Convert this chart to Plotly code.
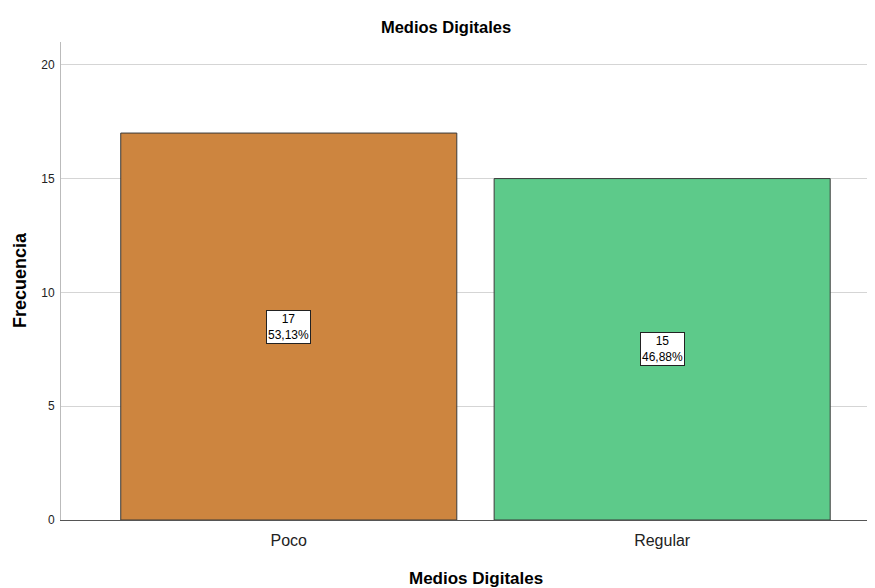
import plotly.graph_objects as go

categories = ["Poco", "Regular"]
counts = [17, 15]
percents = ["53,13%", "46,88%"]
colors = ["#CD853F", "#5DCA8A"]
y_ticks = [0, 5, 10, 15, 20]

fig = go.Figure()
fig.add_trace(go.Bar(
    x=categories, y=counts, width=0.9,
    marker=dict(color=colors, line=dict(color="#3a3a3a", width=1)),
    hoverinfo="skip",
))

for c, v, p in zip(categories, counts, percents):
    fig.add_annotation(
        x=c, y=v / 2, text=f"{v}<br>{p}", showarrow=False,
        font=dict(family="Liberation Sans, Arial", size=12, color="#000"),
        bgcolor="white", bordercolor="#222", borderwidth=1, borderpad=1,
        align="center",
    )

# axis titles as annotations (placed like the reference)
fig.add_annotation(
    xref="paper", yref="paper", x=(476 - 61) / 814, y=(520 - 578) / 478,
    xanchor="center", yanchor="middle", showarrow=False,
    text="<b>Medios Digitales</b>", font=dict(size=17, color="#000"),
)
fig.add_annotation(
    xref="paper", yref="paper", x=(20 - 61) / 814, y=(520 - 280) / 478,
    xanchor="center", yanchor="middle", showarrow=False, textangle=-90,
    text="<b>Frecuencia</b>", font=dict(size=18, color="#000"),
)

fig.update_layout(
    width=867, height=580,
    margin=dict(l=53, r=0, t=34, b=68),
    paper_bgcolor="white", plot_bgcolor="white",
    showlegend=False,
    font=dict(family="Liberation Sans, Arial", color="#000"),
    title=dict(text="<b>Medios Digitales</b>", x=(446 - 8) / 867, xanchor="center",
               y=1 - 19 / 580, yanchor="middle",
               font=dict(size=16.5, color="#000")),
    xaxis=dict(
        range=[-0.61, 1.57], showgrid=False, ticks="",
        showline=True, linecolor="#555", linewidth=1,
        tickfont=dict(size=16, color="#222"), ticklabelstandoff=6,
    ),
    yaxis=dict(
        range=[0, 21.0], tickvals=y_ticks, ticks="",
        showgrid=True, gridcolor="#d5d5d5", gridwidth=1,
        showline=True, linecolor="#bbb", linewidth=1, zeroline=False,
        tickfont=dict(size=12, color="#222"), ticklabelstandoff=3,
    ),
    bargap=0.1,
)

fig.write_html("out.html")
